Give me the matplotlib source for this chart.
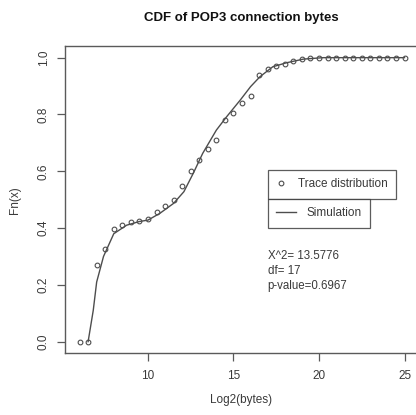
import matplotlib
matplotlib.use("Agg")
import matplotlib.pyplot as plt
from matplotlib.lines import Line2D

plt.rcParams['font.family'] = ['Liberation Sans', 'DejaVu Sans']

# Trace distribution (empirical CDF points)
trace_x = [6.0, 6.5, 7.0, 7.5, 8.0, 8.5, 9.0, 9.5, 10.0, 10.5, 11.0, 11.5,
           12.0, 12.5, 13.0, 13.5, 14.0, 14.5, 15.0, 15.5, 16.0, 16.5, 17.0,
           17.5, 18.0, 18.5, 19.0, 19.5, 20.0, 20.5, 21.0, 21.5, 22.0, 22.5,
           23.0, 23.5, 24.0, 24.5, 25.0]
trace_y = [0.0, 0.0, 0.27, 0.325, 0.398, 0.411, 0.421, 0.425, 0.433, 0.455,
           0.478, 0.499, 0.549, 0.601, 0.640, 0.680, 0.709, 0.781, 0.804,
           0.839, 0.866, 0.940, 0.959, 0.972, 0.979, 0.989, 0.995, 0.999,
           1.0, 1.0, 1.0, 1.0, 1.0, 1.0, 1.0, 1.0, 1.0, 1.0, 1.0]

# Simulation curve
sim_x = [6.5, 6.8, 7.0, 7.4, 8.0, 8.75, 9.5, 10.0, 10.7, 11.5, 12.1, 12.65,
         13.2, 14.0, 14.6, 15.4, 16.0, 16.55, 17.3, 18.1, 19.1, 20.25, 22.0, 25.0]
sim_y = [0.0, 0.11, 0.21, 0.30, 0.38, 0.41, 0.423, 0.428, 0.452, 0.487, 0.528,
         0.593, 0.663, 0.745, 0.792, 0.851, 0.898, 0.933, 0.968, 0.982, 0.995,
         1.0, 1.0, 1.0]

xticks = [10, 15, 20, 25]
yticks = [0.0, 0.2, 0.4, 0.6, 0.8, 1.0]
stats_text = "X^2= 13.5776\ndf= 17\np-value=0.6967"

fig = plt.figure(figsize=(4.16, 4.15), dpi=100)
ax = fig.add_axes([65.2 / 416, (415 - 353) / 415, 352.3 / 416, 306.7 / 415])

gray = '#4d4d4d'
ax.plot(sim_x, sim_y, color=gray, lw=1.0)
ax.plot(trace_x, trace_y, linestyle='none', marker='o', ms=3.4,
        mfc='none', mec=gray, mew=0.8)

ax.set_xlim(5.16, 25.76)
ax.set_ylim(-0.04, 1.04)
ax.set_xticks(xticks)
ax.set_xticklabels([str(t) for t in xticks])
ax.set_yticks(yticks)
ax.set_yticklabels([f"{t:.1f}" for t in yticks], rotation=90, va='center')

for s in ax.spines.values():
    s.set_color('#5a5a5a')
    s.set_linewidth(1.0)
ax.tick_params(direction='out', length=6, width=0.9, colors='#5a5a5a',
               labelcolor='#3a3a3a', labelsize=8.5, pad=5)
ax.tick_params(axis='x', pad=6)

ax.set_xlabel("Log2(bytes)", fontsize=8.5, color='#3a3a3a', labelpad=9)
ax.set_ylabel("Fn(x)", fontsize=8.5, color='#3a3a3a', labelpad=12)
fig.text(241 / 416, 1 - 18 / 415, "CDF of POP3 connection bytes",
         ha='center', va='center', fontsize=9.5, fontweight='bold', color='#111111')

h1 = Line2D([], [], linestyle='none', marker='o', ms=3.4, mfc='none', mec=gray, mew=0.8)
h2 = Line2D([], [], color=gray, lw=1.0)
leg1 = ax.legend([h1], ["Trace distribution"], loc='upper left',
                 bbox_to_anchor=((268 - 65.2) / 352.3, (353 - 170) / 306.7),
                 fontsize=8.5, frameon=True, fancybox=False, handlelength=0.8,
                 borderpad=0.7, handletextpad=1.0, borderaxespad=0)
leg1.get_frame().set_edgecolor('#333333')
leg1.get_frame().set_linewidth(0.9)
ax.add_artist(leg1)
leg2 = ax.legend([h2], ["Simulation"], loc='upper left',
                 bbox_to_anchor=((268 - 65.2) / 352.3, (353 - 199) / 306.7),
                 fontsize=8.5, frameon=True, fancybox=False, handlelength=1.7,
                 borderpad=0.7, handletextpad=0.9, borderaxespad=0)
leg2.get_frame().set_edgecolor('#333333')
leg2.get_frame().set_linewidth(0.9)
for t in leg1.get_texts() + leg2.get_texts():
    t.set_color('#3a3a3a')

ax.text(17.0, 0.322, stats_text, fontsize=8.3, color='#3a3a3a', va='top',
        ha='left', linespacing=1.3)

fig.savefig("out.png", dpi=100)
